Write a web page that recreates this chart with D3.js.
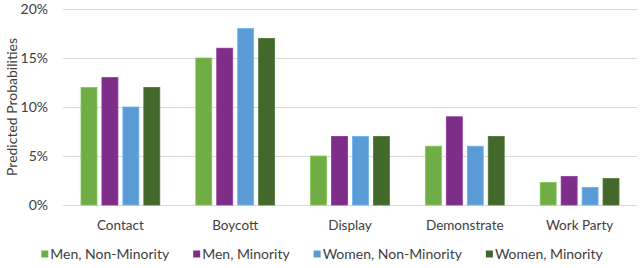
<!DOCTYPE html>
<html>
<head>
<meta charset="utf-8">
<script src="https://cdn.jsdelivr.net/npm/d3@7"></script>
<style>
  body { margin: 0; background: #fff; }
  svg { display: block; font-family: Lato, "Liberation Sans", Arial, sans-serif; }
</style>
</head>
<body>
<div id="chart"></div>
<script>
// Data
const categories = ['Contact', 'Boycott', 'Display', 'Demonstrate', 'Work Party'];
const seriesNames = ['Men, Non-Minority', 'Men, Minority', 'Women, Non-Minority', 'Women, Minority'];
const menNonMinority = [12, 15, 5, 6, 2.3];
const menMinority = [13, 16, 7, 9, 2.9];
const womenNonMinority = [10, 18, 7, 6, 1.8];
const womenMinority = [12, 17, 7, 7, 2.7];
const yTicks = [0, 5, 10, 15, 20];

const seriesValues = [menNonMinority, menMinority, womenNonMinority, womenMinority];
const colors = ['#70ad47', '#7e2d88', '#5b9bd5', '#43682b'];

const width = 644, height = 268;
const margin = { top: 9, right: 7, bottom: 63, left: 63 };

const svg = d3.select('#chart').append('svg')
    .attr('width', width)
    .attr('height', height);

const x0 = d3.scaleBand()
    .domain(categories)
    .range([margin.left, width - margin.right])
    .padding(0);

const x1 = d3.scaleBand()
    .domain(seriesNames)
    .range([18, x0.bandwidth() - 18])
    .paddingInner(5 / 21)
    .paddingOuter(0);

const y = d3.scaleLinear()
    .domain([0, 20])
    .range([height - margin.bottom, margin.top]);

// Grid
svg.append('g')
    .selectAll('line')
    .data(yTicks)
    .join('line')
    .attr('x1', margin.left)
    .attr('x2', width - margin.right)
    .attr('y1', d => Math.round(y(d)) + 0.5)
    .attr('y2', d => Math.round(y(d)) + 0.5)
    .attr('stroke', '#d9d9d9')
    .attr('stroke-width', 1);

// Y tick labels
svg.append('g')
    .selectAll('text')
    .data(yTicks)
    .join('text')
    .attr('x', 48)
    .attr('y', d => y(d))
    .attr('dy', '0.35em')
    .attr('text-anchor', 'end')
    .style('font-size', '14px')
    .style('fill', '#404040')
    .text(d => d + '%');

// Y axis title
svg.append('text')
    .attr('transform', `translate(12,${(y(0) + y(20)) / 2}) rotate(-90)`)
    .attr('text-anchor', 'middle')
    .attr('dy', '0.35em')
    .style('font-size', '14px')
    .style('fill', '#404040')
    .text('Predicted Probabilities');

// Bars
const groups = svg.selectAll('.cat')
    .data(categories)
    .join('g')
    .attr('class', 'cat')
    .attr('transform', d => `translate(${x0(d)},0)`);

groups.selectAll('rect')
    .data((c, ci) => seriesNames.map((s, si) => ({ s, si, v: seriesValues[si][ci] })))
    .join('rect')
    .attr('x', d => x1(d.s))
    .attr('y', d => y(d.v))
    .attr('width', x1.bandwidth())
    .attr('height', d => y(0) - y(d.v))
    .attr('fill', d => colors[d.si])
    .attr('stroke', d => d3.color(colors[d.si]).brighter(0.4))
    .attr('stroke-width', 0.8);

// Category labels
svg.append('g')
    .selectAll('text')
    .data(categories)
    .join('text')
    .attr('x', d => x0(d) + x0.bandwidth() / 2)
    .attr('y', 225)
    .attr('dy', '0.35em')
    .attr('text-anchor', 'middle')
    .style('font-size', '13.5px')
    .style('fill', '#404040')
    .text(d => d);

// Legend - laid out from measured text widths, centred on the chart
const legend = svg.append('g');
const items = legend.selectAll('g')
    .data(seriesNames)
    .join('g');

items.append('rect')
    .attr('x', 0)
    .attr('y', -3.5)
    .attr('width', 7)
    .attr('height', 7)
    .attr('fill', (d, i) => colors[i]);

items.append('text')
    .attr('x', 9)
    .attr('y', 0)
    .attr('dy', '0.35em')
    .style('font-size', '14px')
    .style('fill', '#404040')
    .text(d => d);

const gap = 24;
const itemWidths = [];
items.each(function() {
    itemWidths.push(9 + d3.select(this).select('text').node().getComputedTextLength());
});
const total = d3.sum(itemWidths) + gap * (itemWidths.length - 1);
let cursor = width / 2 - total / 2;
items.attr('transform', (d, i) => {
    const x = cursor;
    cursor += itemWidths[i] + gap;
    return `translate(${x},254)`;
});
</script>
</body>
</html>
